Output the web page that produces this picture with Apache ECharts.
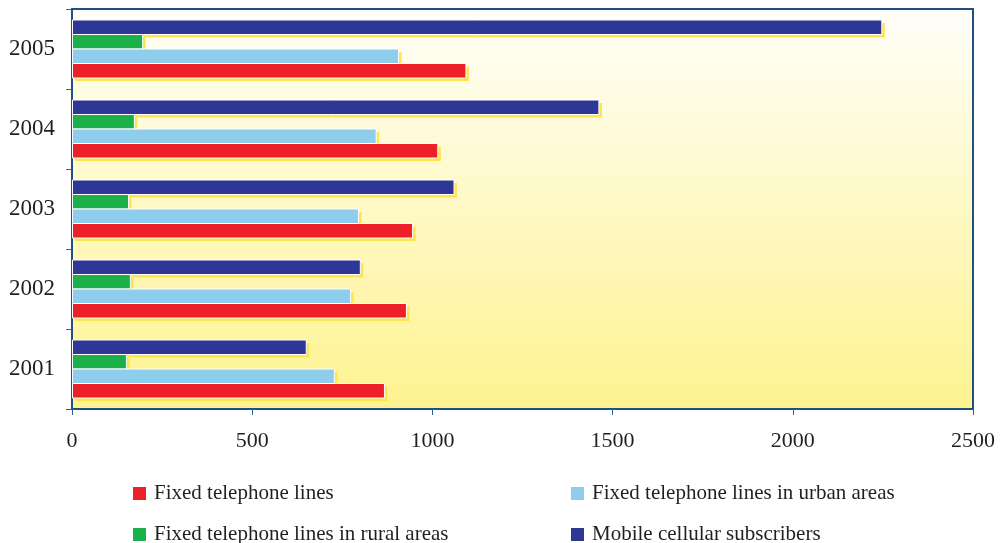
<!DOCTYPE html>
<html><head><meta charset="utf-8">
<script src="https://cdn.jsdelivr.net/npm/echarts@6/dist/echarts.min.js"></script>
<style>html,body{margin:0;padding:0;background:#fff}#c{width:1002px;height:543px}</style>
</head><body><div id="c"></div>
<script>
var years = ['2001','2002','2003','2004','2005'];
var xTicks = [0,500,1000,1500,2000,2500];
var fixedLines = [867, 928, 945, 1015, 1093];
var urbanLines = [728, 773, 795, 844, 906];
var ruralLines = [151, 162, 157, 173, 196];
var mobileSubs = [650, 800, 1060, 1462, 2247];
var names = ['Fixed telephone lines','Fixed telephone lines in urban areas','Fixed telephone lines in rural areas','Mobile cellular subscribers'];
var colors = ['#ed2029','#8fcdec','#1cb04b','#2e3795'];
var seriesData = [fixedLines, urbanLines, ruralLines, mobileSubs];

var serif = '"Liberation Serif","DejaVu Serif",serif';
var chart = echarts.init(document.getElementById('c'), null, {renderer:'canvas'});

// slot 0 = top of band (mobile), slot 3 = bottom (fixed)
function makeRender(slot, color){
  return function(params, api){
    var idx = api.value(0), val = api.value(1);
    var end = api.coord([val, idx]);
    var start = api.coord([0, idx]);
    var band = api.size([0, 1])[1];
    var w = band * 0.18125;
    var top = end[1] - 2 * w + slot * w;
    var len = end[0] - start[0];
    return {type:'group', children:[
      {type:'rect', shape:{x:start[0]+3, y:top+3, width:len, height:w},
        style:{fill:'#ffe34f'}},
      {type:'rect', shape:{x:start[0]+0.5, y:top, width:len-0.5, height:w},
        style:{fill:color, stroke:'#ffffff', lineWidth:1}}
    ]};
  };
}
var order = [3,2,1,0]; // draw top (mobile) first, then lower bars over its shadow
var series = order.map(function(i){
  var slot = 3 - i;
  return {
    name: names[i], type:'custom',
    data: years.map(function(y, k){ return [k, seriesData[i][k]]; }),
    encode:{x:1, y:0},
    itemStyle:{color:colors[i]},
    renderItem: makeRender(slot, colors[i]),
    animation:false, silent:true
  };
});
var legendPos = [[128,478],[566,478],[128,519],[566,519]];
var legends = names.map(function(n,i){
  return {data:[n], left:legendPos[i][0], top:legendPos[i][1], icon:'rect',
    itemWidth:13, itemHeight:13, selectedMode:false,
    textStyle:{fontFamily:serif, fontSize:21, color:'#231f20', padding:[0,0,0,3]}};
});
chart.setOption({
  animation:false,
  color: colors,
  legend: legends,
  grid:{left:72, right:29, top:9, bottom:134, show:true, borderColor:'#1f5080', borderWidth:2,
    backgroundColor:{type:'linear', x:0, y:0, x2:0, y2:1, colorStops:[{offset:0,color:'#fffefa'},{offset:1,color:'#fef38f'}]}},
  xAxis:{type:'value', min:xTicks[0], max:xTicks[xTicks.length-1], interval:500,
    splitLine:{show:false},
    axisLine:{show:true, lineStyle:{color:'#1f5080', width:2}},
    axisTick:{show:true, length:6, lineStyle:{color:'#2a5d8a', width:1}},
    axisLabel:{fontFamily:serif, fontSize:22, color:'#231f20', margin:21,
      formatter:function(v){ return String(v); }}},
  yAxis:{type:'category', data:years, boundaryGap:true,
    axisLine:{show:true, lineStyle:{color:'#1f5080', width:2}},
    axisTick:{show:true, length:6, lineStyle:{color:'#2a5d8a', width:1}},
    axisLabel:{fontFamily:serif, fontSize:23, color:'#231f20', margin:17, padding:[4,0,0,0]}},
  series: series
});
</script></body></html>
